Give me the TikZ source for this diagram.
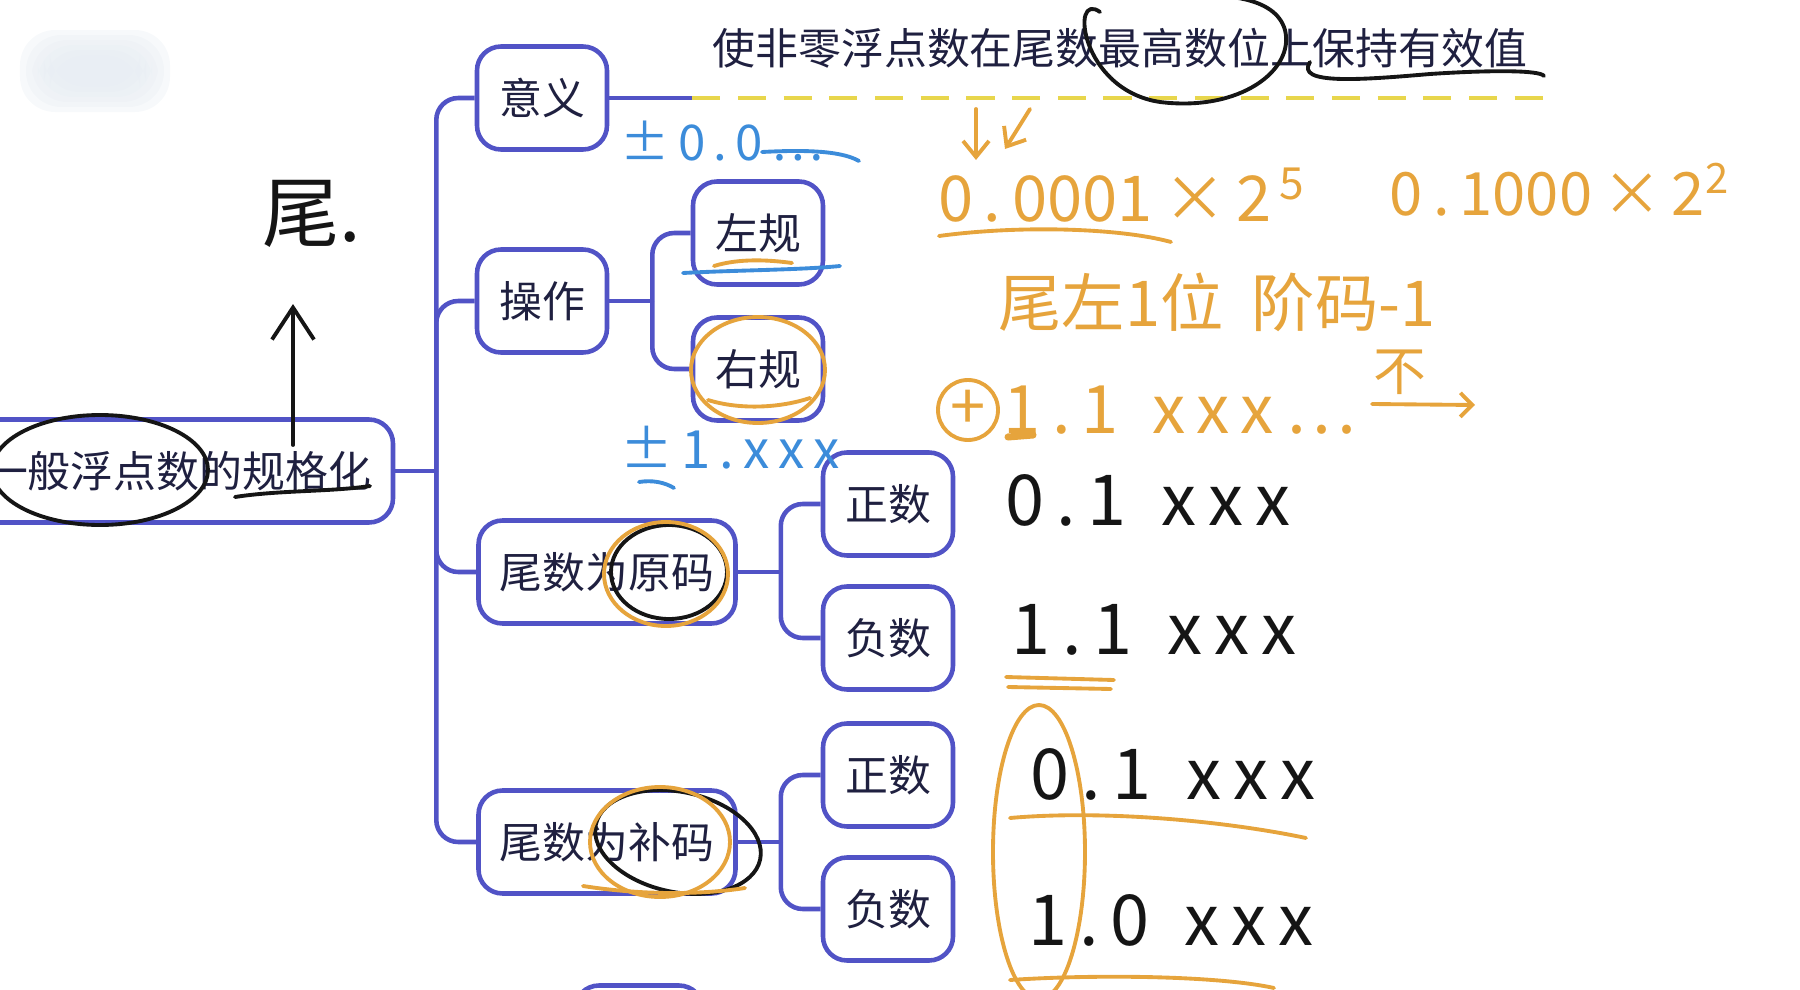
\documentclass[tikz,border=0pt]{standalone}
\usepackage{fontspec}
\setmainfont{Noto Sans CJK SC}
\definecolor{mapblue}{HTML}{5153C6}
\definecolor{inkdark}{HTML}{1F2040}
\definecolor{notegold}{HTML}{E8D64C}
\definecolor{handorange}{HTML}{E6A43C}
\definecolor{handblue}{HTML}{3C8CDA}
\definecolor{handblack}{HTML}{151515}
\definecolor{blurgrey}{HTML}{E6ECF2}
\usetikzlibrary{arrows.meta}

\tikzset{
  mapnode/.style={rectangle, draw=mapblue, line width=1.3pt, fill=white,
    text=inkdark, minimum height=1.03cm, minimum width=1.30cm,
    inner xsep=0.2cm, rounded corners=0.24cm,
    font=\fontsize{12.2}{14}\selectfont},
  maplink/.style={draw=mapblue, line width=1.3pt, rounded corners=0.22cm},
  notedash/.style={draw=notegold, line width=1.3pt, dash pattern=on 8pt off 5pt},
  inkline/.style={line width=1.1pt, line cap=round, line join=round},
  handtext/.style={inner sep=0pt, font=\fontsize{#1}{#1}\selectfont},
}

\begin{document}
\begin{tikzpicture}
  \useasboundingbox (0,0) rectangle (18,-9.9);
  \foreach \i in {0,...,5}
    \fill[blurgrey, opacity=0.3, rounded corners=0.35cm]
      (0.20+0.06*\i,-0.30-0.05*\i) rectangle (1.70-0.06*\i,-1.12+0.05*\i);

  % mind map
  \node[mapnode, minimum width=4.30cm] (root) at (1.78,-4.71) {一般浮点数的规格化};
  \node[mapnode] (yiyi) at (5.42,-0.98) {意义};
  \node[mapnode] (caozuo) at (5.42,-3.01) {操作};
  \node[mapnode, minimum width=2.57cm] (yuanma) at (6.07,-5.72) {尾数为原码};
  \node[mapnode, minimum width=2.57cm] (buma) at (6.07,-8.42) {尾数为补码};
  \node[mapnode] (zuogui) at (7.58,-2.33) {左规};
  \node[mapnode] (yougui) at (7.58,-3.69) {右规};
  \node[mapnode] (zheng1) at (8.88,-5.04) {正数};
  \node[mapnode] (fu1) at (8.88,-6.38) {负数};
  \node[mapnode] (zheng2) at (8.88,-7.75) {正数};
  \node[mapnode] (fu2) at (8.88,-9.09) {负数};
  \node[mapnode, minimum width=1.28cm] (more) at (6.39,-10.37) {};

  \draw[maplink] (root.east) -- ++(0.41,0) coordinate (hub);
  \foreach \n in {yiyi,caozuo,yuanma,buma}
    \draw[maplink] (hub) |- (\n.west);
  \draw[maplink] (caozuo.east) -- ++(0.43,0) coordinate (hubop);
  \foreach \n in {zuogui,yougui}
    \draw[maplink] (hubop) |- (\n.west);
  \draw[maplink] (yuanma.east) -- ++(0.43,0) coordinate (hubyuan);
  \foreach \n in {zheng1,fu1}
    \draw[maplink] (hubyuan) |- (\n.west);
  \draw[maplink] (buma.east) -- ++(0.43,0) coordinate (hubbu);
  \foreach \n in {zheng2,fu2}
    \draw[maplink] (hubbu) |- (\n.west);

  \draw[maplink] (yiyi.east) -- ++(0.83,0) coordinate (noteL);
  \coordinate (noteR) at (15.44,-0.98);
  \draw[notedash] (noteL) -- (noteR);
  \node[text=inkdark, font=\fontsize{12.2}{14}\selectfont] (meaning) at (11.20,-0.48)
    {使非零浮点数在尾数最高数位上保持有效值};

  % black ink
  \begin{scope}[handblack, inkline]
    \node[handtext=22, text=handblack] (wei) at (3.12,-2.14) {尾.};
    \coordinate (arrowfoot) at (2.93,-4.45);
    \coordinate (arrowtip) at (2.93,-3.04);
    \draw[-{Straight Barb[length=0.32cm,width=0.42cm]}] (arrowfoot) -- (arrowtip);
    \draw (11.00,-0.12) .. controls (10.70,0.10) and (10.80,-0.90) .. (11.60,-1.02)
      .. controls (12.40,-1.12) and (12.95,-0.70) .. (12.85,-0.30)
      .. controls (12.75,0.05) and (12.20,0.05) .. (11.90,0.05);
    \draw (13.10,-0.62) .. controls (12.95,-0.85) and (13.60,-0.80) .. (14.30,-0.74)
      .. controls (14.90,-0.70) and (15.40,-0.70) .. (15.44,-0.76);
    \draw (1.00,-4.70) ellipse [x radius=1.08cm, y radius=0.55cm];
    \draw (2.35,-4.97) .. controls (2.80,-4.90) and (3.30,-4.92) .. (3.70,-4.86);
    \draw (6.69,-5.72) ellipse [x radius=0.58cm, y radius=0.47cm];
    \draw[rotate around={-12:(6.78,-8.42)}] (6.78,-8.42) ellipse [x radius=0.84cm, y radius=0.50cm];
    \node[handtext=20, text=handblack] (row1) at (11.48,-5.00) {0\,.\,1\enspace x\,x\,x};
    \node[handtext=20, text=handblack] (row2) at (11.54,-6.30) {1\,.\,1\enspace x\,x\,x};
    \node[handtext=20, text=handblack] (row3) at (11.73,-7.74) {0\,.\,1\enspace x\,x\,x};
    \node[handtext=20, text=handblack] (row4) at (11.71,-9.20) {1\,.\,0\enspace x\,x\,x};
  \end{scope}

  % orange ink
  \begin{scope}[handorange, inkline]
    \draw (7.58,-3.70) ellipse [x radius=0.67cm, y radius=0.53cm];
    \draw (7.08,-4.00) .. controls (7.40,-4.10) and (7.80,-4.08) .. (8.10,-3.98);
    \draw (7.14,-2.66) .. controls (7.40,-2.58) and (7.70,-2.60) .. (7.92,-2.63);
    \draw (6.66,-5.74) ellipse [x radius=0.62cm, y radius=0.52cm];
    \draw (6.60,-8.42) ellipse [x radius=0.70cm, y radius=0.55cm];
    \draw (5.83,-8.86) .. controls (6.40,-8.95) and (7.00,-8.95) .. (7.45,-8.88);
    \node[handtext=18, text=handorange] (powa) at (11.22,-1.95) {0\,.\,0001\,×\,2\textsuperscript{\,5}};
    \draw[-{Straight Barb[length=0.16cm,width=0.26cm]}] (9.76,-1.09) -- (9.76,-1.60);
    \draw[-{Straight Barb[length=0.16cm,width=0.26cm]}] (10.30,-1.09) -- (10.05,-1.49);
    \draw (9.39,-2.36) .. controls (10.20,-2.25) and (11.20,-2.28) .. (11.71,-2.42);
    \node[handtext=17, text=handorange] (powb) at (15.60,-1.90) {0\,.\,1000\,×\,2\textsuperscript{2}};
    \node[handtext=18, text=handorange] (shift) at (12.17,-3.02) {尾左1位\ \ 阶码-1};
    \node[circle, draw=handorange, line width=1.1pt, minimum size=0.60cm, inner sep=0pt,
      text=handorange, font=\fontsize{18}{18}\selectfont] (plus) at (9.68,-4.10) {+};
    \node[handtext=19, text=handorange, anchor=west] (carry) at (10.02,-4.10) {1\,.\,1\enspace x\,x\,x\,⋯};
    \node[handtext=15, text=handorange] (notx) at (14.00,-3.72) {不};
    \draw[-{Straight Barb[length=0.12cm,width=0.24cm]}] (13.72,-4.04) -- (14.75,-4.05);
    \draw[line width=2pt] (10.08,-4.37) -- (10.33,-4.35);
    \draw (10.06,-6.77) -- (11.14,-6.80);
    \draw (10.08,-6.87) -- (11.11,-6.89);
    \draw (10.10,-8.18) .. controls (11.00,-8.10) and (12.20,-8.20) .. (13.06,-8.38);
    \draw (10.10,-9.80) .. controls (11.00,-9.74) and (12.20,-9.76) .. (12.74,-9.88);
    \draw (10.39,-8.52) ellipse [x radius=0.46cm, y radius=1.47cm];
  \end{scope}

  % blue ink
  \begin{scope}[handblue, inkline]
    \node[handtext=14, text=handblue] (pmzero) at (7.22,-1.41) {±\,0\,.\,0\,…};
    \draw (7.62,-1.52) .. controls (8.00,-1.50) and (8.40,-1.50) .. (8.59,-1.61);
    \draw (6.83,-2.73) .. controls (7.40,-2.70) and (8.00,-2.70) .. (8.40,-2.66);
    \node[handtext=15, text=handblue] (pmone) at (7.30,-4.48) {±\,1\,.\,x\,x\,x};
    \draw (6.39,-4.82) .. controls (6.52,-4.80) and (6.64,-4.82) .. (6.74,-4.88);
  \end{scope}
\end{tikzpicture}
\end{document}
